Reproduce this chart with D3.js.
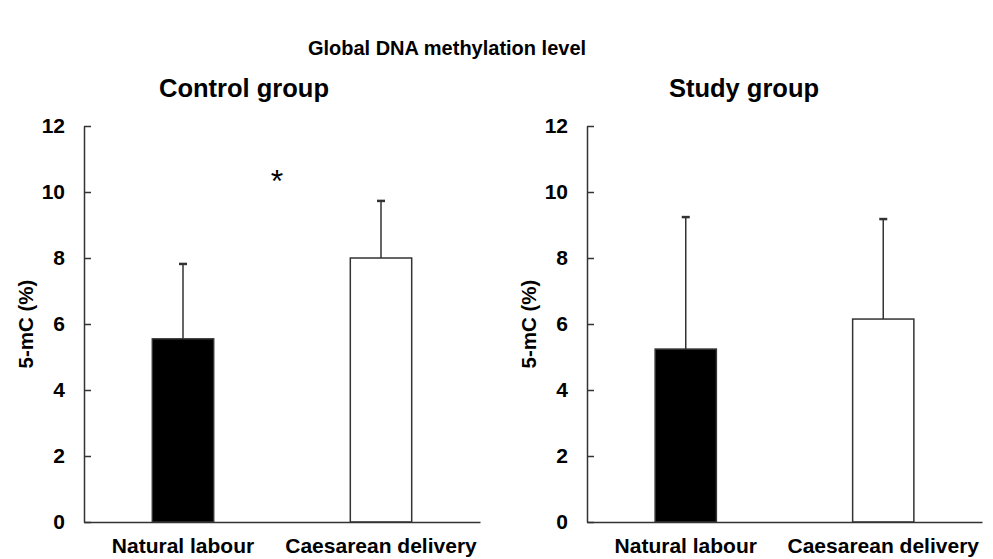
<!DOCTYPE html>
<html>
<head>
<meta charset="utf-8">
<script src="https://cdn.jsdelivr.net/npm/d3@7"></script>
<style>
  body { margin: 0; background: #fff; }
  text { font-family: "Liberation Sans", Arial, sans-serif; font-weight: bold; fill: #000; }
</style>
</head>
<body>
<div id="chart"></div>
<script>
// values (mean and upper SD bar)
var categories = ["Natural labour", "Caesarean delivery"];
var controlMeans = [5.55, 8.0];
var controlSD = [2.27, 1.73];
var studyMeans = [5.24, 6.15];
var studySD = [4.0, 3.03];
var yTicks = [0, 2, 4, 6, 8, 10, 12];
var barFills = ["#000", "#fff"];

var width = 993, height = 559;
var ink = "#333";

var svg = d3.select("#chart")
    .append("svg")
    .attr("width", width)
    .attr("height", height)

svg.append("text")
    .attr("x", 447)
    .attr("y", 55)
    .attr("text-anchor", "middle")
    .style("font-size", "20px")
    .text("Global DNA methylation level")

var y = d3.scaleLinear().domain([0, 12]).range([522, 126])

function drawPanel(x0, x1, titleX, title, means, sd, star) {
    var g = svg.append("g").attr("class", "panel")

    var x = d3.scaleBand()
        .domain(categories)
        .range([x0, x1])
        .paddingInner(0.69)
        .paddingOuter(0.345)

    g.append("text")
        .attr("x", titleX)
        .attr("y", 97)
        .attr("text-anchor", "middle")
        .style("font-size", "25.5px")
        .text(title)

    // y axis, ticks pointing inward
    var yAxis = g.append("g")
        .attr("transform", "translate(" + x0 + ",0)")
        .call(d3.axisLeft(y).tickValues(yTicks).tickSizeInner(-7).tickSizeOuter(0).tickPadding(19))
    yAxis.selectAll("path, line").attr("stroke", ink).attr("stroke-width", 1.5)
    yAxis.selectAll("text").style("font-size", "21px").style("font-family", null)

    g.append("text")
        .attr("transform", "translate(" + (x0 - 58) + "," + (y(6)) + ") rotate(-90)")
        .attr("text-anchor", "middle")
        .attr("dy", "0.35em")
        .style("font-size", "20.5px")
        .text("5-mC (%)")

    var rows = categories.map(function(c, i) {
        return { cat: c, mean: means[i], sd: sd[i], fill: barFills[i] }
    })

    g.selectAll("rect.bar")
        .data(rows)
        .enter().append("rect")
        .attr("class", "bar")
        .attr("x", function(d) { return x(d.cat) })
        .attr("width", x.bandwidth())
        .attr("y", function(d) { return y(d.mean) })
        .attr("height", function(d) { return y(0) - y(d.mean) })
        .attr("fill", function(d) { return d.fill })
        .attr("stroke", ink)
        .attr("stroke-width", 1.5)

    // upper error bars only
    var cx = function(d) { return x(d.cat) + x.bandwidth() / 2 }
    g.selectAll("line.err")
        .data(rows)
        .enter().append("line")
        .attr("class", "err")
        .attr("x1", cx).attr("x2", cx)
        .attr("y1", function(d) { return y(d.mean) })
        .attr("y2", function(d) { return y(d.mean + d.sd) })
        .attr("stroke", ink)
        .attr("stroke-width", 1.5)
    g.selectAll("line.cap")
        .data(rows)
        .enter().append("line")
        .attr("class", "cap")
        .attr("x1", function(d) { return cx(d) - 4 })
        .attr("x2", function(d) { return cx(d) + 4 })
        .attr("y1", function(d) { return y(d.mean + d.sd) })
        .attr("y2", function(d) { return y(d.mean + d.sd) })
        .attr("stroke", ink)
        .attr("stroke-width", 2.5)

    var xAxis = g.append("g")
        .attr("transform", "translate(0," + y(0) + ")")
        .call(d3.axisBottom(x).tickSize(0).tickPadding(16))
    xAxis.select("path").attr("stroke", ink).attr("stroke-width", 1.5)
    xAxis.selectAll("text").style("font-size", "21px").style("font-family", null)

    if (star) {
        g.append("text")
            .attr("x", x0 + (x1 - x0) * 0.487)
            .attr("y", 192)
            .attr("text-anchor", "middle")
            .style("font-size", "32px")
            .style("font-weight", "normal")
            .text("*")
    }
}

drawPanel(84, 480, 244, "Control group", controlMeans, controlSD, true)
drawPanel(587, 982, 744, "Study group", studyMeans, studySD, false)
</script>
</body>
</html>
